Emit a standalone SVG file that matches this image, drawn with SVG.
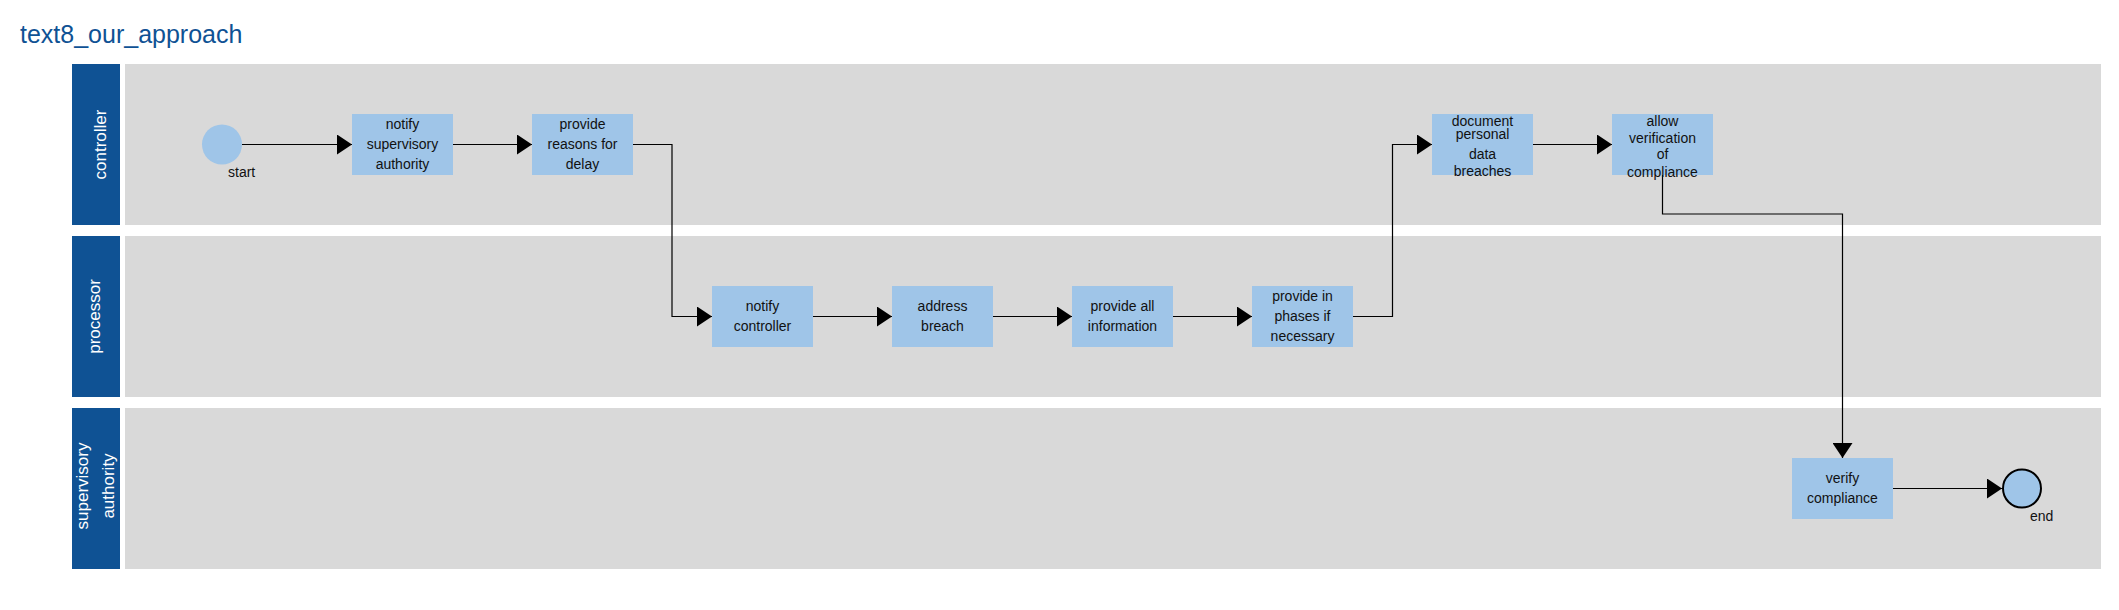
<svg xmlns="http://www.w3.org/2000/svg" width="2119" height="610" viewBox="0 0 2119 610">
<style>
.title{font-family:"Liberation Sans",Arial,sans-serif;font-size:25px;fill:#0f5294}
.band{fill:#0f5294}
.lane{fill:#d9d9d9}
.lanelbl{font-family:"Liberation Sans",Arial,sans-serif;font-size:17px;fill:#ffffff;text-anchor:middle}
.task rect{fill:#9fc5e8}
.txt{font-family:"Liberation Sans",Arial,sans-serif;font-size:14px;fill:#111;text-anchor:middle}
.lbl{font-family:"Liberation Sans",Arial,sans-serif;font-size:14px;fill:#111}
.conn path{fill:none;stroke:#000;stroke-width:1.2;marker-end:url(#arrow)}
</style>
<defs>
<marker id="arrow" markerWidth="15" markerHeight="20" refX="15" refY="10" orient="auto" markerUnits="userSpaceOnUse"><path d="M0,0 L15,10 L0,20 z" fill="#000"/></marker>
</defs>
<rect width="2119" height="610" fill="#fff"/>
<text class="title" x="20" y="43">text8_our_approach</text>

<g id="lane-controller">
<rect class="band" x="72" y="64" width="48" height="161"/>
<rect class="lane" x="125" y="64" width="1976" height="161"/>
<text class="lanelbl" transform="translate(105.5,144.5) rotate(-90)">controller</text>
</g>
<g id="lane-processor">
<rect class="band" x="72" y="236" width="48" height="161"/>
<rect class="lane" x="125" y="236" width="1976" height="161"/>
<text class="lanelbl" transform="translate(100,316.5) rotate(-90)">processor</text>
</g>
<g id="lane-supervisory">
<rect class="band" x="72" y="408" width="48" height="161"/>
<rect class="lane" x="125" y="408" width="1976" height="161"/>
<text class="lanelbl" transform="translate(88,486) rotate(-90)">supervisory</text>
<text class="lanelbl" transform="translate(113.5,486) rotate(-90)">authority</text>
</g>

<g id="connectors" class="conn">
<path d="M242,144.5 H352"/>
<path d="M453,144.5 H532"/>
<path d="M633,144.5 H672 V316.5 H712"/>
<path d="M813,316.5 H892"/>
<path d="M993,316.5 H1072"/>
<path d="M1173,316.5 H1252"/>
<path d="M1353,316.5 H1392.5 V144.5 H1432"/>
<path d="M1533,144.5 H1612"/>
<path d="M1662.5,175 V214 H1842.5 V458"/>
<path d="M1893,488.5 H2002"/>
</g>

<g id="start">
<circle cx="222" cy="144.5" r="20" fill="#9fc5e8"/>
<text class="lbl" x="228" y="177">start</text>
</g>
<g id="notify-supervisory-authority" class="task">
<rect x="352" y="114" width="101" height="61"/>
<text class="txt" x="402.5" y="128.5">notify</text>
<text class="txt" x="402.5" y="148.5">supervisory</text>
<text class="txt" x="402.5" y="168.5">authority</text>
</g>
<g id="provide-reasons" class="task">
<rect x="532" y="114" width="101" height="61"/>
<text class="txt" x="582.5" y="128.5">provide</text>
<text class="txt" x="582.5" y="148.5">reasons for</text>
<text class="txt" x="582.5" y="168.5">delay</text>
</g>
<g id="notify-controller" class="task">
<rect x="712" y="286" width="101" height="61"/>
<text class="txt" x="762.5" y="311">notify</text>
<text class="txt" x="762.5" y="331">controller</text>
</g>
<g id="address-breach" class="task">
<rect x="892" y="286" width="101" height="61"/>
<text class="txt" x="942.5" y="311">address</text>
<text class="txt" x="942.5" y="331">breach</text>
</g>
<g id="provide-all-information" class="task">
<rect x="1072" y="286" width="101" height="61"/>
<text class="txt" x="1122.5" y="311">provide all</text>
<text class="txt" x="1122.5" y="331">information</text>
</g>
<g id="provide-in-phases" class="task">
<rect x="1252" y="286" width="101" height="61"/>
<text class="txt" x="1302.5" y="301">provide in</text>
<text class="txt" x="1302.5" y="321">phases if</text>
<text class="txt" x="1302.5" y="341">necessary</text>
</g>
<g id="document-breaches" class="task">
<rect x="1432" y="114" width="101" height="61"/>
<text class="txt" x="1482.5" y="125.5">document</text>
<text class="txt" x="1482.5" y="139">personal</text>
<text class="txt" x="1482.5" y="159">data</text>
<text class="txt" x="1482.5" y="176">breaches</text>
</g>
<g id="allow-verification" class="task">
<rect x="1612" y="114" width="101" height="61"/>
<text class="txt" x="1662.5" y="125.5">allow</text>
<text class="txt" x="1662.5" y="142.5">verification</text>
<text class="txt" x="1662.5" y="159">of</text>
<text class="txt" x="1662.5" y="177">compliance</text>
</g>
<g id="verify-compliance" class="task">
<rect x="1792" y="458" width="101" height="61"/>
<text class="txt" x="1842.5" y="483">verify</text>
<text class="txt" x="1842.5" y="503">compliance</text>
</g>
<g id="end">
<circle cx="2022" cy="488.5" r="19" fill="#9fc5e8" stroke="#000" stroke-width="2"/>
<text class="lbl" x="2030" y="521">end</text>
</g>
</svg>
